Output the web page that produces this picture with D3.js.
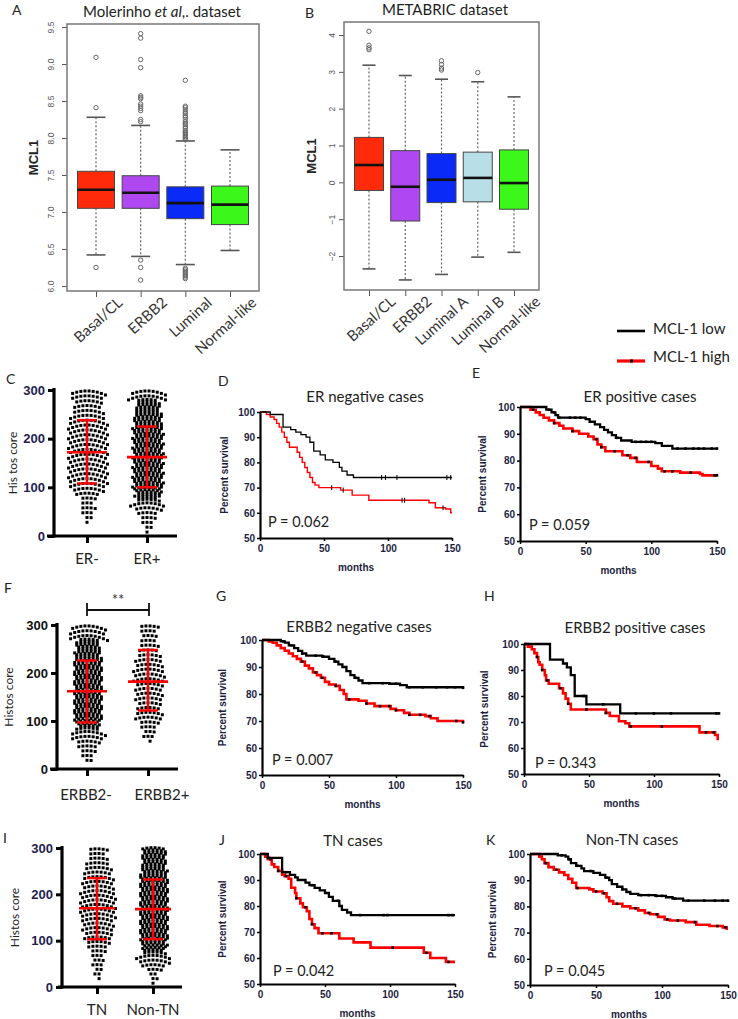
<!DOCTYPE html>
<html><head><meta charset="utf-8">
<script src="https://cdn.jsdelivr.net/npm/d3@7"></script>
<style>body{margin:0;background:#fff}</style>
</head><body>
<svg id="c" width="738" height="1019"></svg>
<script>
// ===================== DATA =====================
// Panel A (Molerinho et al. dataset)
const aCategories = ["Basal/CL","ERBB2","Luminal","Normal-like"];
const aWhiskerLow = [6.42,6.40,6.29,6.48];
const aQ1 = [7.05,7.05,6.91,6.83];
const aMedian = [7.30,7.26,7.12,7.10];
const aQ3 = [7.55,7.49,7.34,7.35];
const aWhiskerHigh = [8.28,8.17,7.96,7.84];
const aOutliers = [
  [9.09,8.41,6.25],
  [9.41,9.35,9.06,8.95,8.57,8.55,8.53,8.46,8.43,8.40,8.37,8.25,8.22,6.35,6.25,6.08],
  [8.78,8.43,8.41,8.38,8.35,8.33,8.30,8.28,8.25,8.22,8.20,8.18,8.15,8.13,8.10,8.08,8.06,8.04,8.02,8.00,7.98,6.24,6.22,6.20,6.18,6.16,6.14,6.12,6.10],
  []
];
const aTicks = [6.0,6.5,7.0,7.5,8.0,8.5,9.0,9.5];
const aColors = ["#ff2a0a","#b048f2","#0a2af8","#3cf81a"];

// Panel B (METABRIC dataset)
const bCategories = ["Basal/CL","ERBB2","Luminal A","Luminal B","Normal-like"];
const bWhiskerLow = [-2.35,-2.65,-2.50,-2.03,-1.90];
const bQ1 = [-0.22,-1.05,-0.55,-0.53,-0.73];
const bMedian = [0.47,-0.12,0.07,0.12,-0.02];
const bQ3 = [1.22,0.86,0.78,0.82,0.88];
const bWhiskerHigh = [3.18,2.90,2.80,2.73,2.32];
const bOutliers = [[4.10,3.72,3.65,3.60],[],[3.30,3.20,3.10,3.05],[2.98],[]];
const bTicks = [-2,-1,0,1,2,3,4];
const bColors = ["#ff2a0a","#b048f2","#0a2af8","#b8dfe8","#3cf81a"];

// Dot plots: counts of cases per 10-unit Histoscore bin (0-10, 10-20, ..., 290-300)
const dotTicks = [0,100,200,300];
const cGroups = ["ER-","ER+"];
const cCountsERneg = [0,0,1,2,3,4,3,4,6,8,9,10,10,10,10,10,10,10,10,10,10,10,10,10,9,8,7,7,8,9];
const cCountsERpos = [1,2,3,4,5,7,9,11,13,14,15,15,15,15,15,15,15,15,15,15,15,15,15,14,14,13,12,11,10,9];
const cMean = [172,162], cSDLow = [108,100], cSDHigh = [238,225];

const fGroups = ["ERBB2-","ERBB2+"];
const fCountsNeg = [0,2,3,4,5,6,8,9,11,12,14,14,14,14,14,14,14,14,14,14,14,14,14,13,13,12,11,10,9,9];
const fCountsPos = [0,0,0,0,0,1,3,3,4,5,7,7,6,6,7,7,7,7,8,8,8,7,7,6,5,5,4,4,4,5];
const fMean = [162,182], fSDLow = [97,122], fSDHigh = [226,248];

const iGroups = ["TN","Non-TN"];
const iCountsTN = [0,1,2,2,3,3,3,4,5,6,7,7,8,8,8,9,9,9,9,9,9,8,8,8,7,7,6,5,4,5];
const iCountsNonTN = [1,2,2,4,6,8,9,11,12,13,14,14,14,14,14,14,14,14,14,14,14,14,14,14,13,13,12,12,12,12];
const iMean = [170,168], iSDLow = [103,103], iSDHigh = [235,232];

// Kaplan-Meier curves: [months, percent survival] at each step
const kmYTicks = [50,60,70,80,90,100];
const kmXTicks = [0,50,100,150];
const kmDLow = [[0,100],[8,99],[18,94],[24,93],[28,92],[32,91],[36,90],[39,88],[42,84.5],[47,83],[51,81],[57,80],[62,78],[64,76.5],[68,75],[73,74],[150,74]];
const kmDHigh = [[0,100],[5,99],[8,98],[11,97],[13,95.5],[15,94],[17,92],[19,90],[21,88],[23,86],[29,84],[31,82],[33,80],[35,78],[37,76],[39,74],[41,72],[43,71],[46,70],[63,69],[72,67],[85,65],[132,64],[137,62],[145,61.5],[149,60],[150,60]];
const kmDLowCens = [95,98,107,146,149];
const kmDHighCens = [56,65,111,113,143];

const kmELow = [[0,100],[20,99],[24,98],[27,97],[29,96],[50,95.5],[53,94.5],[57,93.5],[61,92.5],[64,91.5],[67,90.5],[70,89.5],[73,88.5],[77,87.5],[85,87],[103,86.5],[108,85.5],[116,84.5],[150,84.5]];
const kmEHigh = [[0,100],[8,99],[12,98],[15,97],[18,96],[22,95],[26,94],[30,93],[33,92],[40,91],[45,90],[52,89],[56,88],[59,86],[62,85],[65,83.5],[78,82],[84,81],[89,79.5],[100,78],[105,77],[108,76],[122,75.5],[137,75],[139,74.5],[150,74.5]];
const kmELowCens = [22,26,30,38,42,46,74,88,92,96,100,120,126,132,136,140,146,150];
const kmEHighCens = [10,26,40,58,62,72,82,88,98,110,116,130,148,150];

const kmGLow = [[0,100],[14,99.5],[17,99],[20,98],[24,97],[27,96],[30,95],[33,94.2],[45,93.8],[50,93],[54,92],[57,91],[60,90],[63,88.5],[66,87],[69,86],[72,85],[75,84],[95,83.8],[103,83.3],[108,82.5],[150,82.3]];
const kmGHigh = [[0,100],[5,99.5],[8,99],[11,98],[14,97],[17,96],[20,95],[23,94],[26,93],[29,92],[32,90.5],[35,89.5],[38,88],[41,87],[44,86],[47,84.5],[50,83.5],[55,83],[58,81.5],[61,80],[63,78],[72,77.5],[78,76.5],[84,75.5],[96,74.5],[100,74],[106,73],[110,72.3],[122,71.8],[126,71],[131,70],[150,69.5]];
const kmGLowCens = [16,22,30,40,46,55,70,80,90,95,100,110,120,130,138,144,150];
const kmGHighCens = [30,40,45,55,65,78,88,95,100,110,118,125,145,150];

const kmHLow = [[0,100],[20,94],[30,92.5],[33,91],[36,88],[39,80],[48,76.8],[74,73.3],[150,73.3]];
const kmHHigh = [[0,100],[3,99],[6,98],[8,96.5],[10,95],[11,93],[12,92],[14,90],[16,88],[17,86],[19,84.7],[27,83],[30,81],[32,79],[34,77],[36,74.8],[63,73.5],[66,72.3],[73,70.3],[78,69.5],[81,68.3],[135,66],[147,65],[149,63.5],[150,63.5]];
const kmHLowCens = [46,61,86,100,113,148,150];
const kmHHighCens = [10,14,18,28,34,48,63,82,106,140,146];

const kmJLow = [[0,100],[6,98.5],[17,93],[23,92],[27,91],[29,90],[35,89],[38,88],[42,87],[46,86],[50,85],[53,83.5],[56,82],[61,80],[63,78.5],[67,77.5],[70,76.5],[150,76.5]];
const kmJHigh = [[0,100],[4,99],[6,98],[9,96],[11,95],[14,93.5],[17,92],[19,91.5],[22,90.5],[24,87],[27,85],[28,83],[31,81],[33,79.5],[36,78],[38,75],[40,73],[42,71.5],[45,69.5],[61,67.5],[72,66],[85,64],[126,62],[131,60],[143,58.5],[150,58.5]];
const kmJLowCens = [7,20,40,60,77,95,98,145,148];
const kmJHighCens = [8,14,20,28,35,40,48,55,102,128,145];

const kmKLow = [[0,100],[21,99.5],[27,99],[29,98],[31,96.5],[35,95.5],[39,94.5],[41,93.5],[48,92.8],[53,92],[57,91],[60,90],[62,88.5],[66,87.5],[70,86.5],[73,85.5],[76,84.8],[82,84.3],[95,84],[103,83.5],[108,83],[116,82.2],[150,82.2]];
const kmKHigh = [[0,100],[7,99],[9,98],[11,96.5],[14,95],[18,94],[22,93],[26,92],[29,90.5],[32,89],[35,87],[45,86.5],[48,85.7],[55,85],[58,83.5],[60,82],[63,81],[70,80],[76,79.3],[82,78.5],[87,77.5],[91,77],[97,76],[102,75],[106,74.6],[118,74],[126,73],[136,72.5],[146,72],[149,71.5],[150,71.5]];
const kmKLowCens = [24,30,36,46,58,70,84,90,96,100,110,120,132,140,146,150];
const kmKHighCens = [12,20,36,50,56,66,80,90,96,104,112,125,142,148];

const legendLabels = ["MCL-1 low","MCL-1 high"];

// ===================== DRAWING =====================
const svg = d3.select("#c");
svg.append("rect").attr("width",738).attr("height",1019).attr("fill","#fff");
const SANS = "Lato, 'Open Sans', sans-serif";
const ARIAL = "'Liberation Sans', Arial, sans-serif";

function letter(t,x,y){
  svg.append("text").attr("x",x).attr("y",y).text(t)
    .attr("font-family",SANS).attr("font-size",14).attr("fill","#222");
}

// ---------- box plots ----------
function boxPanel(cfg){
  const g = svg.append("g");
  const y = d3.scaleLinear().domain(cfg.ydom).range(cfg.yrange);
  const x = d3.scalePoint().domain(cfg.cats).range(cfg.xrange);
  const ya = g.append("g").attr("transform",`translate(${cfg.box[0]},0)`)
    .call(d3.axisLeft(y).tickValues(cfg.ticks).tickSize(5).tickSizeOuter(0).tickFormat(cfg.fmt));
  ya.select(".domain").remove();
  ya.selectAll("line").attr("stroke","#555");
  ya.selectAll("text").attr("x",0).attr("dy",0).attr("y",0)
    .attr("transform",`translate(${cfg.labX-cfg.box[0]},0) rotate(-90)`)
    .attr("text-anchor","middle").attr("dominant-baseline","central")
    .attr("font-family",ARIAL).attr("font-size",8.5).attr("fill","#555");
  const xa = g.append("g").attr("transform",`translate(0,${cfg.box[3]})`)
    .call(d3.axisBottom(x).tickSize(6).tickSizeOuter(0));
  xa.select(".domain").remove();
  xa.selectAll("line").attr("stroke","#555");
  xa.selectAll("text").attr("y",0).attr("dy",0)
    .attr("transform","translate(27,13) rotate(-42)")
    .attr("text-anchor","end")
    .attr("font-family",SANS).attr("font-size",15).attr("fill","#333");
  cfg.cats.forEach((c,i)=>{
    const cx = x(c), bw = cfg.bw, cw = cfg.cw;
    g.append("line").attr("x1",cx).attr("x2",cx).attr("y1",y(cfg.q3[i])).attr("y2",y(cfg.hi[i]))
      .attr("stroke","#666").attr("stroke-dasharray","2,2").attr("stroke-width",1.2);
    g.append("line").attr("x1",cx).attr("x2",cx).attr("y1",y(cfg.q1[i])).attr("y2",y(cfg.lo[i]))
      .attr("stroke","#666").attr("stroke-dasharray","2,2").attr("stroke-width",1.2);
    [cfg.hi[i],cfg.lo[i]].forEach(v=>g.append("line").attr("x1",cx-cw/2).attr("x2",cx+cw/2)
      .attr("y1",y(v)).attr("y2",y(v)).attr("stroke","#555").attr("stroke-width",1.6));
    g.append("rect").attr("x",cx-bw/2).attr("width",bw).attr("y",y(cfg.q3[i]))
      .attr("height",y(cfg.q1[i])-y(cfg.q3[i])).attr("fill",cfg.colors[i])
      .attr("stroke","#444").attr("stroke-width",1);
    g.append("line").attr("x1",cx-bw/2).attr("x2",cx+bw/2).attr("y1",y(cfg.med[i])).attr("y2",y(cfg.med[i]))
      .attr("stroke","#111").attr("stroke-width",2.6);
    cfg.out[i].forEach(v=>g.append("circle").attr("cx",cx).attr("cy",y(v)).attr("r",2.2)
      .attr("fill","none").attr("stroke","#666").attr("stroke-width",1));
  });
  g.append("rect").attr("x",cfg.box[0]).attr("y",cfg.box[1])
    .attr("width",cfg.box[2]-cfg.box[0]).attr("height",cfg.box[3]-cfg.box[1])
    .attr("fill","none").attr("stroke","#777").attr("stroke-width",1.5);
  g.append("text").attr("transform",`translate(${cfg.mclX},${(cfg.box[1]+cfg.box[3])/2}) rotate(-90)`)
    .attr("text-anchor","middle").attr("font-family",ARIAL).attr("font-weight","bold")
    .attr("font-size",13).attr("fill","#222").text("MCL1");
}

boxPanel({cats:aCategories, ydom:[6,9.5], yrange:[286,27], xrange:[96,230], box:[67,24,259,291],
  ticks:aTicks, fmt:d3.format(".1f"), labX:51, bw:37, cw:19, colors:aColors,
  lo:aWhiskerLow,q1:aQ1,med:aMedian,q3:aQ3,hi:aWhiskerHigh,out:aOutliers, mclX:38});
boxPanel({cats:bCategories, ydom:[-2,4], yrange:[256,35], xrange:[369,514], box:[344,22,539,290],
  ticks:bTicks, fmt:d3.format("d"), labX:332, bw:29, cw:13, colors:bColors,
  lo:bWhiskerLow,q1:bQ1,med:bMedian,q3:bQ3,hi:bWhiskerHigh,out:bOutliers, mclX:316});

letter("A",12,15); letter("B",305,18);
const tA = svg.append("text").attr("x",162).attr("y",17).attr("text-anchor","middle")
  .attr("font-family",SANS).attr("font-size",15).attr("fill","#222");
tA.append("tspan").text("Molerinho ");
tA.append("tspan").attr("font-style","italic").text("et al");
tA.append("tspan").text(",. dataset");
svg.append("text").attr("x",445).attr("y",15).attr("text-anchor","middle")
  .attr("font-family",SANS).attr("font-size",15).attr("fill","#222").text("METABRIC dataset");

// ---------- dot plots ----------
function dotPanel(cfg){
  const g = svg.append("g");
  const y = d3.scaleLinear().domain([0,300]).range([cfg.y0,cfg.y300]);
  const x = d3.scalePoint().domain(cfg.groups).range(cfg.xr);
  const S = 3.0;
  cfg.counts.forEach((counts,gi)=>{
    const cx = x(cfg.groups[gi]);
    counts.forEach((n,bi)=>{
      if(!n) return;
      const rows = Math.ceil(n/cfg.maxRow);
      let rem = n;
      for(let r=0;r<rows;r++){
        const m = Math.ceil(rem/(rows-r)); rem -= m;
        const v = bi*10 + (r+0.5)*10/rows;
        const shift = ((bi+r)%2)*cfg.sp*0.5;
        for(let j=0;j<m;j++){
          const dx = (j-(m-1)/2)*cfg.sp + shift;
          g.append("rect").attr("x",cx+dx-S/2).attr("y",y(v)-S/2+0.012*dx*dx-1.5)
            .attr("width",S).attr("height",S).attr("fill","#000");
        }
      }
    });
  });
  cfg.groups.forEach((c,i)=>{
    const cx = x(c);
    g.append("line").attr("x1",cx).attr("x2",cx).attr("y1",y(cfg.sdLo[i])).attr("y2",y(cfg.sdHi[i]))
      .attr("stroke","#ff0000").attr("stroke-width",2.4);
    [cfg.sdLo[i],cfg.sdHi[i]].forEach(v=>g.append("line").attr("x1",cx-10).attr("x2",cx+10)
      .attr("y1",y(v)).attr("y2",y(v)).attr("stroke","#ff0000").attr("stroke-width",2.4));
    g.append("line").attr("x1",cx-cfg.mw).attr("x2",cx+cfg.mw).attr("y1",y(cfg.mean[i])).attr("y2",y(cfg.mean[i]))
      .attr("stroke","#ff0000").attr("stroke-width",2.6);
  });
  const ya = g.append("g").attr("transform",`translate(${cfg.ax},0)`)
    .call(d3.axisLeft(y).tickValues(dotTicks).tickSize(6).tickSizeOuter(0).tickPadding(3));
  ya.select(".domain").attr("stroke","#000").attr("stroke-width",3.2)
    .attr("d",`M0,${cfg.y0+1.5}V${cfg.y300-2}`);
  ya.selectAll("line").attr("stroke","#000").attr("stroke-width",3);
  ya.selectAll("text").attr("font-family",ARIAL).attr("font-weight","bold").attr("font-size",13)
    .attr("fill",cfg.tickCol);
  const xa = g.append("g").attr("transform",`translate(0,${cfg.y0})`)
    .call(d3.axisBottom(x).tickSize(7).tickSizeOuter(0).tickFormat(""));
  xa.select(".domain").remove();
  xa.selectAll("line").attr("stroke","#000").attr("stroke-width",3);
  g.append("line").attr("x1",cfg.xl[0]).attr("x2",cfg.xl[1]).attr("y1",cfg.y0).attr("y2",cfg.y0)
    .attr("stroke","#000").attr("stroke-width",3.2);
  cfg.groups.forEach((c,i)=>g.append("text").attr("x",x(c)+cfg.ldx[i]).attr("y",cfg.ly)
    .attr("text-anchor","middle").attr("font-family",SANS).attr("font-size",15).attr("fill","#222").text(c));
  g.append("text").attr("transform",`translate(${cfg.hx},${(cfg.y0+cfg.y300)/2}) rotate(-90)`)
    .attr("text-anchor","middle").attr("font-family",SANS).attr("font-size",12).attr("fill","#222")
    .text(cfg.hlabel);
}

dotPanel({groups:cGroups, counts:[cCountsERneg,cCountsERpos], mean:cMean, sdLo:cSDLow, sdHi:cSDHigh,
  y0:536, y300:390, xr:[87,147], ax:54, xl:[47,177], ly:564, ldx:[0,0], hx:17, maxRow:10, sp:4.1, mw:20,
  tickCol:"#1e1e50", hlabel:"His tos core"});
dotPanel({groups:fGroups, counts:[fCountsNeg,fCountsPos], mean:fMean, sdLo:fSDLow, sdHi:fSDHigh,
  y0:769, y300:625, xr:[87,148], ax:57, xl:[50,178], ly:800, ldx:[-1,14], hx:13, maxRow:10, sp:4.1, mw:20,
  tickCol:"#111", hlabel:"Histos core"});
dotPanel({groups:iGroups, counts:[iCountsTN,iCountsNonTN], mean:iMean, sdLo:iSDLow, sdHi:iSDHigh,
  y0:987, y300:848, xr:[97,153], ax:62, xl:[58,182], ly:1015, ldx:[0,0], hx:19, maxRow:9, sp:4.1, mw:18,
  tickCol:"#1e1e50", hlabel:"Histos core"});
letter("C",6,384); letter("F",4,593); letter("I",3,843);
svg.append("path").attr("d","M87,603V616M87,610H149M149,603V616").attr("stroke","#111")
  .attr("stroke-width",1.8).attr("fill","none");
svg.append("text").attr("x",118).attr("y",605).attr("text-anchor","middle")
  .attr("font-family",SANS).attr("font-size",15).attr("fill","#333").text("**");

// ---------- Kaplan-Meier ----------
function stepVal(pts,t){ let v=pts[0][1]; for(const p of pts){ if(p[0]<=t) v=p[1]; } return v; }
function kmPanel(cfg){
  const g = svg.append("g");
  const x = d3.scaleLinear().domain([0,150]).range([cfg.x0,cfg.x1]);
  const y = d3.scaleLinear().domain([50,100]).range([cfg.yB,cfg.yT]);
  const line = d3.line().x(d=>x(d[0])).y(d=>y(d[1])).curve(d3.curveStepAfter);
  const lw = cfg.thin?1.3:2.3;
  g.append("path").attr("d",line(cfg.high)).attr("fill","none").attr("stroke","#ff0000").attr("stroke-width",cfg.thin?1.4:2.6);
  g.append("path").attr("d",line(cfg.low)).attr("fill","none").attr("stroke","#000").attr("stroke-width",lw);
  [[cfg.low,cfg.lowC],[cfg.high,cfg.highC]].forEach(([pts,cs])=>{
    cs.forEach(t=>{
      const cx=x(t), cy=y(stepVal(pts,t));
      if(cfg.thin) g.append("line").attr("x1",cx).attr("x2",cx).attr("y1",cy-2.5).attr("y2",cy+2.5)
        .attr("stroke","#000").attr("stroke-width",1);
      else g.append("rect").attr("x",cx-1.3).attr("y",cy-1.3).attr("width",2.6).attr("height",2.6).attr("fill","#000");
    });
  });
  const ya = g.append("g").attr("transform",`translate(${cfg.x0},0)`)
    .call(d3.axisLeft(y).tickValues(kmYTicks).tickSize(3).tickSizeOuter(0).tickPadding(2));
  ya.select(".domain").attr("stroke","#000").attr("stroke-width",2.2);
  ya.selectAll("line").attr("stroke","#000").attr("stroke-width",1.5);
  ya.selectAll("text").attr("font-family",ARIAL).attr("font-weight","bold").attr("font-size",10).attr("fill","#1e1e40");
  const xa = g.append("g").attr("transform",`translate(0,${cfg.yB})`)
    .call(d3.axisBottom(x).tickValues(kmXTicks).tickSize(3).tickSizeOuter(0).tickPadding(4));
  xa.select(".domain").attr("stroke","#000").attr("stroke-width",2.2);
  xa.selectAll("line").attr("stroke","#000").attr("stroke-width",1.5);
  xa.selectAll("text").attr("font-family",ARIAL).attr("font-weight","bold").attr("font-size",10).attr("fill","#1e1e40");
  g.append("text").attr("x",(cfg.x0+cfg.x1)/2).attr("y",cfg.yB+33).attr("text-anchor","middle")
    .attr("font-family",ARIAL).attr("font-weight","bold").attr("font-size",10).attr("fill","#1e1e40").text("months");
  g.append("text").attr("transform",`translate(${cfg.ylx},${(cfg.yT+cfg.yB)/2}) rotate(-90)`)
    .attr("text-anchor","middle").attr("font-family",ARIAL).attr("font-weight","bold").attr("font-size",10)
    .attr("fill","#1e1e40").text("Percent survival");
  g.append("text").attr("x",cfg.tx).attr("y",cfg.ty).attr("text-anchor","middle")
    .attr("font-family",SANS).attr("font-size",15).attr("fill","#222").text(cfg.title);
  g.append("text").attr("x",cfg.px).attr("y",cfg.py)
    .attr("font-family",SANS).attr("font-size",14.5).attr("fill","#222").text(cfg.p);
  letter(cfg.id,cfg.lx,cfg.ly);
}

kmPanel({id:"D",title:"ER negative cases",p:"P = 0.062",low:kmDLow,high:kmDHigh,lowC:kmDLowCens,highC:kmDHighCens,
  x0:260,x1:452,yT:412,yB:538,lx:218,ly:386,tx:365,ty:402,px:268,py:527,ylx:228,thin:true});
kmPanel({id:"E",title:"ER positive cases",p:"P = 0.059",low:kmELow,high:kmEHigh,lowC:kmELowCens,highC:kmEHighCens,
  x0:520,x1:717,yT:407,yB:541,lx:472,ly:378,tx:640,ty:402,px:529,py:530,ylx:486});
kmPanel({id:"G",title:"ERBB2 negative cases",p:"P = 0.007",low:kmGLow,high:kmGHigh,lowC:kmGLowCens,highC:kmGHighCens,
  x0:262,x1:463,yT:640,yB:775,lx:216,ly:601,tx:359,ty:632,px:272,py:765,ylx:226});
kmPanel({id:"H",title:"ERBB2  positive cases",p:"P = 0.343",low:kmHLow,high:kmHHigh,lowC:kmHLowCens,highC:kmHHighCens,
  x0:524,x1:719,yT:644,yB:774,lx:484,ly:601,tx:635,ty:633,px:535,py:768,ylx:488});
kmPanel({id:"J",title:"TN cases",p:"P = 0.042",low:kmJLow,high:kmJHigh,lowC:kmJLowCens,highC:kmJHighCens,
  x0:260,x1:455,yT:854,yB:984,lx:219,ly:845,tx:353,ty:846,px:273,py:976,ylx:226});
kmPanel({id:"K",title:"Non-TN cases",p:"P = 0.045",low:kmKLow,high:kmKHigh,lowC:kmKLowCens,highC:kmKHighCens,
  x0:530,x1:728,yT:854,yB:985,lx:486,ly:845,tx:632,ty:845,px:544,py:976,ylx:496});

// ---------- legend ----------
const lg = svg.append("g");
const ly = d3.scalePoint().domain(legendLabels).range([330,358]);
legendLabels.forEach((l,i)=>{
  const yy = ly(l);
  lg.append("line").attr("x1",617).attr("x2",645).attr("y1",yy+(i?3:1)).attr("y2",yy+(i?3:1))
    .attr("stroke",i?"#ff0000":"#000").attr("stroke-width",i?3.2:2.6);
  if(i) lg.append("rect").attr("x",630).attr("y",yy+1.5).attr("width",3).attr("height",3).attr("fill","#000");
  lg.append("text").attr("x",653).attr("y",yy+4).attr("font-family",SANS).attr("font-size",15)
    .attr("fill","#222").text(l);
});
</script>
</body></html>
